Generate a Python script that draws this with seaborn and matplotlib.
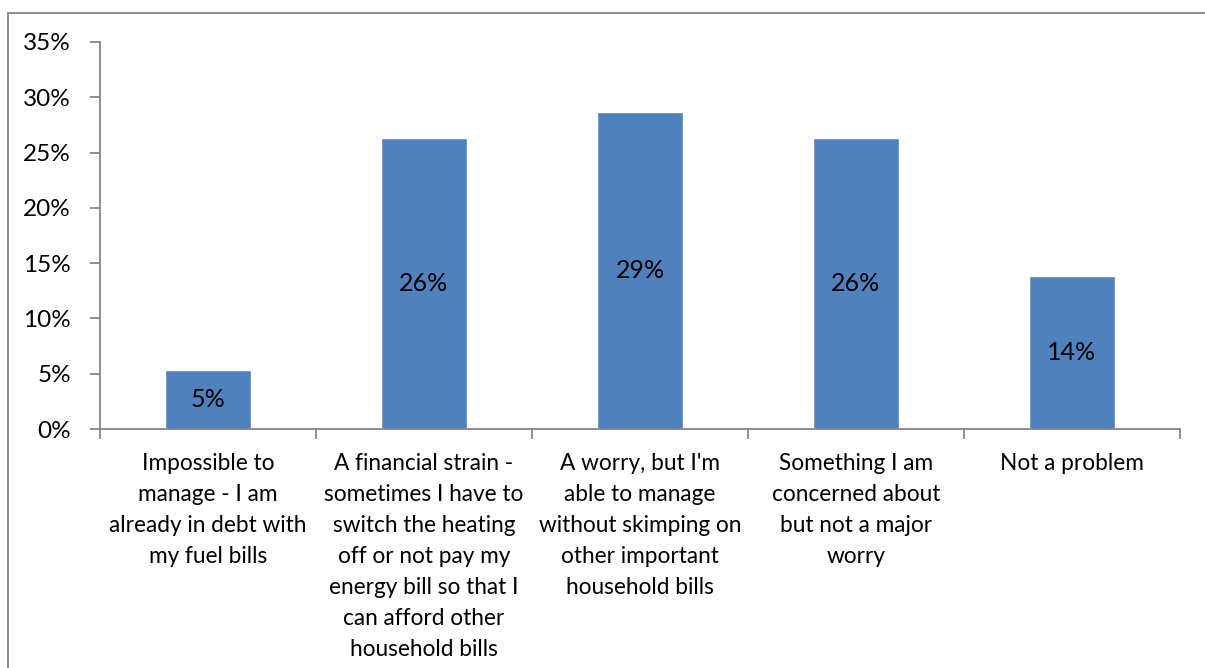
import matplotlib
matplotlib.use("Agg")
import matplotlib.pyplot as plt
from matplotlib.lines import Line2D
from matplotlib.ticker import MultipleLocator, PercentFormatter
import seaborn as sns
import pandas as pd

categories = [
    "Impossible to\nmanage - I am\nalready in debt with\nmy fuel bills",
    "A financial strain -\nsometimes I have to\nswitch the heating\noff or not pay my\nenergy bill so that I\ncan afford other\nhousehold bills",
    "A worry, but I'm\nable to manage\nwithout skimping on\nother important\nhousehold bills",
    "Something I am\nconcerned about\nbut not a major\nworry",
    "Not a problem",
]
shares = [5.3, 26.3, 28.7, 26.3, 13.8]

sns.set_theme(style="white")
plt.rcParams["font.family"] = ["Lato", "DejaVu Sans"]

df = pd.DataFrame({"category": categories, "share": shares})

fig = plt.figure(figsize=(12.05, 6.68), dpi=100)
ax = fig.add_axes([100 / 1205, 1 - 429 / 668, 1080 / 1205, 387 / 668])

bar_color = "#4F81BD"
axis_grey = "#868686"

sns.barplot(data=df, x="category", y="share", color=bar_color, width=0.4,
            saturation=1, ax=ax)

ax.set_ylim(0, 35)
ax.set_xlim(-0.5, len(categories) - 0.5)
ax.yaxis.set_major_locator(MultipleLocator(5))
ax.yaxis.set_major_formatter(PercentFormatter(decimals=0))
ax.set_xlabel("")
ax.set_ylabel("")

for side in ("top", "right"):
    ax.spines[side].set_visible(False)
for side in ("left", "bottom"):
    ax.spines[side].set_color(axis_grey)
    ax.spines[side].set_linewidth(1.3)

# value labels centred inside each bar
for bar, v in zip(ax.patches, shares):
    ax.text(bar.get_x() + bar.get_width() / 2, v / 2, f"{v:.0f}%",
            ha="center", va="center", fontsize=18, color="black")

# y ticks outward on the left
ax.tick_params(axis="y", which="major", direction="out", length=7, width=1.3,
               color=axis_grey, left=True, labelsize=17.5, labelcolor="black", pad=14)

# x ticks at category boundaries, labels centred under each category
ax.set_xticks([i for i in range(len(categories))])
ax.set_xticklabels(categories, fontsize=16.3, linespacing=1.59, color="black")
ax.tick_params(axis="x", which="major", length=0, pad=17)
ax.set_xticks([i - 0.5 for i in range(len(categories) + 1)], minor=True)
ax.tick_params(axis="x", which="minor", direction="out", length=7, width=1.3,
               color=axis_grey, bottom=True)

# chart area border
fig.add_artist(Line2D([8 / 1205, 8 / 1205], [0, 1 - 13 / 668],
                      transform=fig.transFigure, color=axis_grey, lw=1.3))
fig.add_artist(Line2D([8 / 1205, 1], [1 - 13 / 668, 1 - 13 / 668],
                      transform=fig.transFigure, color=axis_grey, lw=1.3))

fig.savefig("out.png", dpi=100, facecolor="white")
